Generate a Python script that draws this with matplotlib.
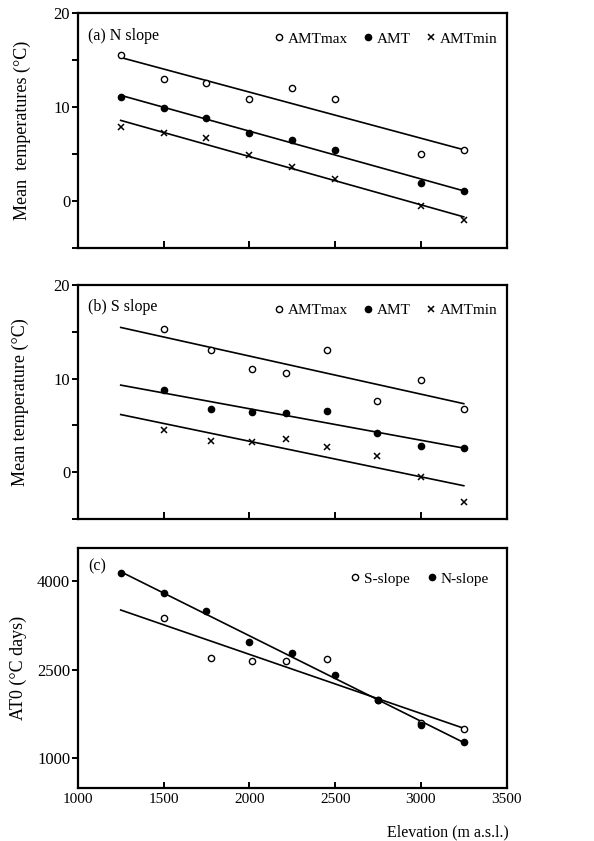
import numpy as np
import matplotlib
matplotlib.use("Agg")
import matplotlib.pyplot as plt

plt.rcParams["font.family"] = ["Liberation Serif", "DejaVu Serif"]
plt.rcParams["font.size"] = 10

# (a) N slope
elev_n = [1250, 1500, 1750, 2000, 2250, 2500, 3000, 3250]
n_amtmax = [15.6, 13.0, 12.6, 10.9, 12.1, 10.9, 5.0, 5.5]
n_amt = [11.1, 9.9, 8.9, 7.25, 6.5, 5.4, 1.9, 1.1]
n_amtmin = [7.9, 7.3, 6.7, 4.9, 3.6, 2.4, -0.5, -2.0]

# (b) S slope
elev_s = [1500, 1775, 2015, 2215, 2450, 2745, 3000, 3250]
s_amtmax = [15.3, 13.1, 11.0, 10.6, 13.1, 7.6, 9.9, 6.7]
s_amt = [8.8, 6.7, 6.4, 6.3, 6.5, 4.2, 2.8, 2.6]
s_amtmin = [4.5, 3.3, 3.2, 3.5, 2.7, 1.7, -0.5, -3.2]

# (c) AT0
elev_c_n = [1250, 1500, 1750, 2000, 2250, 2500, 2750, 3000, 3250]
at0_n = [4130, 3795, 3485, 2975, 2780, 2405, 1995, 1560, 1280]
elev_c_s = [1500, 1775, 2015, 2215, 2450, 2750, 3000, 3250]
at0_s = [3370, 2700, 2640, 2640, 2680, 1995, 1600, 1490]

line_x = np.array([1250, 3250])


def fit_line(ax, x, y):
    k, b = np.polyfit(x, y, 1)
    ax.plot(line_x, k * line_x + b, color="black", lw=1.2, zorder=1)


def style(ax):
    for s in ax.spines.values():
        s.set_linewidth(1.6)
    ax.set_xlim(1000, 3500)
    ax.tick_params(axis="y", direction="out", length=4, width=1.4, pad=1.5, labelsize=12)
    ax.tick_params(axis="x", direction="in", length=5, width=1.4)


fig = plt.figure(figsize=(5.94, 8.41), dpi=100)
ax_a = fig.add_axes([0.131, 0.705, 0.722, 0.279])
ax_b = fig.add_axes([0.131, 0.383, 0.722, 0.278])
ax_c = fig.add_axes([0.131, 0.063, 0.722, 0.285])

mk = dict(ms=4.5, ls="none", color="black", zorder=3)
for ax, x, ys, lab, ylab, lx in [
    (ax_a, elev_n, (n_amtmax, n_amt, n_amtmin), "(a) N slope", "Mean  temperatures (\u00b0C)", -0.108),
    (ax_b, elev_s, (s_amtmax, s_amt, s_amtmin), "(b) S slope", "Mean temperature (\u00b0C)", -0.113),
]:
    style(ax)
    ax.plot(x, ys[0], marker="o", mfc="white", mew=1.0, label="AMTmax", **mk)
    ax.plot(x, ys[1], marker="o", mfc="black", label="AMT", **mk)
    ax.plot(x, ys[2], marker="x", mew=1.1, label="AMTmin", **mk)
    for y in ys:
        fit_line(ax, x, y)
    ax.set_ylim(-5, 20)
    ax.set_yticks([-5, 0, 5, 10, 15, 20])
    ax.set_yticklabels(["", "0", "", "10", "", "20"])
    ax.set_xticks([1500, 2000, 2500, 3000])
    ax.set_xticklabels([])
    ax.set_ylabel(ylab, fontsize=13)
    ax.yaxis.set_label_coords(lx, 0.5)
    ax.text(0.023, 0.94, lab, transform=ax.transAxes, fontsize=11.5, va="top")
    ax.legend(loc="upper right", ncol=3, frameon=False, fontsize=11,
              handletextpad=0.1, columnspacing=0.8, handlelength=1.0,
              bbox_to_anchor=(1.0, 0.96), borderaxespad=0.2)

style(ax_c)
ax_c.plot(elev_c_s, at0_s, marker="o", mfc="white", mew=1.0, label="S-slope", **mk)
ax_c.plot(elev_c_n, at0_n, marker="o", mfc="black", label="N-slope", **mk)
fit_line(ax_c, elev_c_s, at0_s)
fit_line(ax_c, elev_c_n, at0_n)
ax_c.set_ylim(500, 4550)
ax_c.set_yticks([1000, 2500, 4000])
ax_c.set_xticks([1000, 1500, 2000, 2500, 3000, 3500])
ax_c.tick_params(axis="x", length=4, labelsize=11)
ax_c.set_ylabel("AT0 (\u00b0C days)", fontsize=13)
ax_c.yaxis.set_label_coords(-0.118, 0.5)
ax_c.text(0.025, 0.96, "(c)", transform=ax_c.transAxes, fontsize=11.5, va="top")
ax_c.legend(loc="upper right", ncol=2, frameon=False, fontsize=11,
            handletextpad=0.1, columnspacing=0.9, handlelength=1.0,
            bbox_to_anchor=(0.98, 0.94), borderaxespad=0.2)
ax_c.set_xlabel("Elevation (m a.s.l.)", fontsize=11.5)
ax_c.xaxis.set_label_coords(0.862, -0.15)

fig.savefig("out.png", dpi=100)
